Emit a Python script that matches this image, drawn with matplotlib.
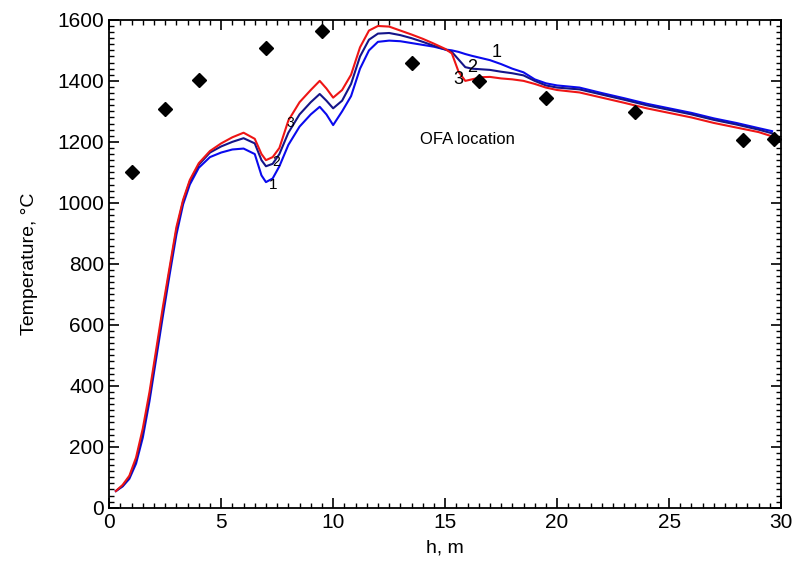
import numpy as np
import matplotlib.pyplot as plt
from matplotlib.ticker import MultipleLocator

plt.rcParams['font.family'] = ['Liberation Sans', 'DejaVu Sans']

# measured points
h_meas = [1.0, 2.5, 4.0, 7.0, 9.5, 13.5, 16.5, 19.5, 23.5, 28.3, 29.7]
t_meas = [1100, 1308, 1403, 1508, 1564, 1459, 1400, 1344, 1298, 1207, 1210]

# calculated curves
h = [0.3, 0.6, 0.9, 1.2, 1.5, 1.8, 2.1, 2.4, 2.7, 3.0, 3.3, 3.6, 4.0, 4.5, 5.0,
     5.5, 6.0, 6.5, 6.8, 7.0, 7.3, 7.6, 8.0, 8.5, 9.0, 9.4, 9.7, 10.0, 10.4,
     10.8, 11.2, 11.6, 12.0, 12.5, 13.0, 13.5, 14.0, 14.5, 15.0, 15.3, 15.6,
     15.9, 16.2, 16.6, 17.0, 17.5, 18.0, 18.5, 19.0, 19.5, 20.0, 21.0, 22.0,
     23.0, 24.0, 25.0, 26.0, 27.0, 28.0, 29.0, 29.6]
t1 = [55, 70, 95, 145, 230, 350, 490, 630, 765, 895, 995, 1060, 1115, 1150, 1165,
      1175, 1178, 1160, 1090, 1068, 1080, 1120, 1190, 1250, 1290, 1315, 1290, 1255, 1300,
      1350, 1440, 1500, 1528, 1532, 1530, 1524, 1518, 1512, 1503, 1500, 1495,
      1488, 1482, 1475, 1468, 1455, 1440, 1428, 1405, 1392, 1385, 1378, 1360,
      1343, 1325, 1310, 1295, 1277, 1262, 1245, 1235]
t2 = [55, 72, 100, 155, 245, 365, 505, 645, 780, 910, 1005, 1070, 1125, 1165, 1185,
      1200, 1212, 1195, 1140, 1120, 1128, 1160, 1230, 1290, 1330, 1357, 1335, 1310, 1335,
      1390, 1480, 1535, 1555, 1557, 1550, 1540, 1528, 1515, 1503, 1495, 1470,
      1445, 1440, 1438, 1436, 1430, 1425, 1418, 1400, 1385, 1378, 1372, 1355,
      1338, 1320, 1305, 1290, 1272, 1257, 1240, 1228]
t3 = [55, 75, 105, 165, 260, 380, 520, 660, 790, 920, 1010, 1075, 1130, 1170, 1195,
      1215, 1230, 1210, 1160, 1140, 1150, 1180, 1270, 1330, 1370, 1400, 1375, 1345, 1370,
      1420, 1510, 1565, 1580, 1578, 1565, 1552, 1538, 1522, 1505, 1490, 1430,
      1400, 1405, 1412, 1413, 1408, 1405, 1400, 1390, 1378, 1370, 1362, 1345,
      1328, 1310, 1295, 1280, 1262, 1247, 1232, 1218]

fig = plt.figure(figsize=(7.97, 5.68), dpi=100)
ax = fig.add_axes([0.137, 0.106, 0.843, 0.859])

ax.plot(h, t1, color='#0a0aee', lw=1.5)
ax.plot(h, t2, color='#14148a', lw=1.5)
ax.plot(h, t3, color='#ee1515', lw=1.5)
ax.plot(h_meas, t_meas, 'D', color='black', markersize=7, ls='none')

# curve labels
ax.text(17.3, 1492, '1', fontsize=13, ha='center', va='center')
ax.text(16.2, 1443, '2', fontsize=13, ha='center', va='center')
ax.text(15.6, 1403, '3', fontsize=13, ha='center', va='center')
ax.text(7.3, 1059, '1', fontsize=11, ha='center', va='center')
ax.text(7.45, 1134, '2', fontsize=10, ha='center', va='center')
ax.text(8.1, 1262, '3', fontsize=10, ha='center', va='center')
ax.text(13.9, 1207, 'OFA location', fontsize=12, ha='left', va='center')

ax.set_xlim(0, 30)
ax.set_ylim(0, 1600)
ax.xaxis.set_major_locator(MultipleLocator(5))
ax.xaxis.set_minor_locator(MultipleLocator(0.5))
ax.yaxis.set_major_locator(MultipleLocator(200))
ax.yaxis.set_minor_locator(MultipleLocator(20))
ax.tick_params(which='both', direction='in', top=True, right=True, labelsize=15)
ax.tick_params(which='major', length=7, width=1.2)
ax.tick_params(which='minor', length=3.5, width=1)
for s in ax.spines.values():
    s.set_linewidth(1.3)

ax.set_xlabel('h, m', fontsize=14, labelpad=6)
ax.set_ylabel('Temperature, °C', fontsize=14, labelpad=14)

fig.savefig('out.png', dpi=100)
